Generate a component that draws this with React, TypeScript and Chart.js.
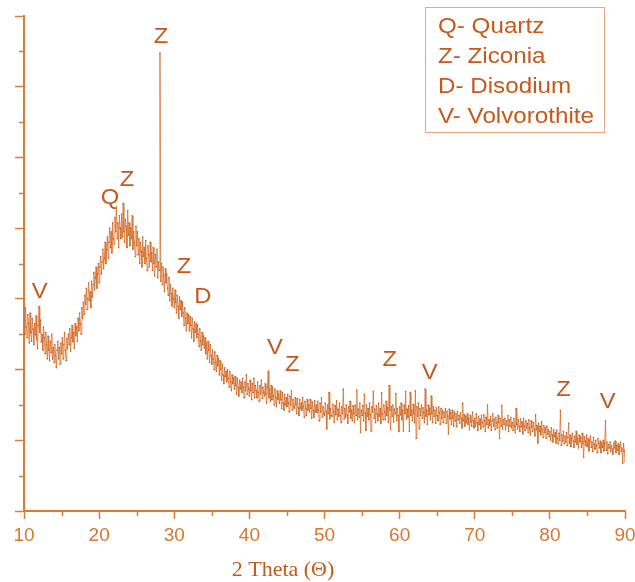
import React, { useEffect, useRef } from "react";
import { Chart, registerables } from "chart.js";
Chart.register(...registerables);

// XRD scan sampling grid (2θ step of the recorded pattern)
const scanStart = 10;
const scanStep = 0.1;

// Intensity (counts), one array per 10° of 2θ
const intensity10to20 = [
  540, 500, 575, 520, 490, 555, 530, 475, 560, 505,
  480, 545, 515, 470, 530, 498, 552, 485, 460, 525,
  578, 505, 540, 478, 500, 455, 520, 490, 445, 505,
  470, 430, 495, 455, 425, 480, 448, 500, 430, 462,
  420, 470, 440, 405, 455, 480, 430, 462, 415, 475,
  445, 490, 430, 470, 505, 455, 425, 488, 460, 500,
  470, 515, 452, 490, 525, 478, 505, 460, 530, 495,
  520, 480, 545, 510, 560, 530, 500, 575, 545, 590,
  555, 610, 585, 630, 570, 600, 645, 595, 620, 575,
  650, 605, 640, 675, 625, 660, 690, 630, 670, 700,
];
const intensity20to30 = [
  645, 690, 720, 670, 705, 740, 685, 715, 760, 700,
  740, 775, 715, 760, 800, 745, 790, 730, 815, 770,
  755, 830, 790, 860, 770, 815, 745, 835, 800, 770,
  840, 775, 870, 790, 760, 825, 805, 745, 850, 780,
  815, 750, 800, 770, 835, 740, 790, 760, 720, 805,
  750, 790, 725, 770, 700, 760, 735, 690, 775, 720,
  745, 700, 765, 715, 680, 750, 725, 690, 760, 705,
  730, 680, 745, 700, 665, 725, 690, 740, 660, 705,
  680, 1295, 650, 700, 640, 690, 665, 620, 685, 645,
  670, 630, 610, 660, 595, 640, 615, 580, 630, 600,
];
const intensity30to40 = [
  575, 625, 590, 560, 610, 580, 545, 605, 570, 595,
  550, 590, 560, 525, 575, 545, 510, 560, 530, 555,
  510, 550, 525, 490, 545, 515, 480, 535, 505, 530,
  490, 525, 500, 465, 515, 480, 455, 505, 470, 495,
  460, 490, 445, 475, 430, 480, 455, 420, 470, 440,
  415, 455, 430, 400, 450, 420, 395, 440, 410, 430,
  385, 425, 400, 370, 415, 385, 360, 405, 380, 395,
  365, 400, 375, 350, 395, 365, 340, 385, 360, 375,
  345, 380, 355, 330, 375, 350, 325, 370, 345, 365,
  335, 375, 350, 320, 365, 340, 385, 330, 360, 345,
];
const intensity40to50 = [
  325, 370, 340, 315, 360, 335, 375, 320, 355, 340,
  320, 365, 335, 310, 355, 330, 370, 318, 350, 335,
  325, 360, 330, 305, 350, 395, 320, 345, 310, 355,
  315, 350, 325, 300, 345, 320, 295, 340, 315, 330,
  305, 340, 315, 290, 335, 305, 285, 330, 300, 320,
  295, 330, 305, 280, 325, 300, 340, 285, 315, 295,
  290, 320, 300, 275, 318, 292, 270, 315, 290, 305,
  285, 320, 295, 265, 310, 290, 270, 315, 285, 300,
  280, 315, 290, 262, 308, 285, 265, 312, 280, 300,
  278, 310, 285, 255, 305, 280, 320, 265, 295, 275,
];
const intensity50to60 = [
  270, 305, 282, 232, 300, 275, 335, 260, 290, 270,
  268, 302, 280, 250, 298, 272, 312, 258, 288, 268,
  305, 270, 250, 295, 275, 345, 260, 290, 265, 300,
  272, 248, 295, 280, 310, 262, 285, 255, 298, 275,
  250, 300, 270, 342, 258, 288, 265, 305, 222, 285,
  270, 298, 255, 330, 278, 228, 300, 268, 290, 258,
  305, 272, 226, 295, 280, 338, 262, 288, 250, 298,
  275, 255, 305, 268, 290, 248, 335, 275, 258, 300,
  280, 258, 310, 270, 292, 250, 355, 285, 230, 295,
  268, 300, 252, 288, 275, 332, 255, 290, 270, 225,
];
const intensity60to70 = [
  295, 272, 305, 258, 285, 226, 300, 275, 338, 260,
  288, 265, 298, 225, 335, 270, 285, 255, 302, 275,
  250, 340, 205, 295, 268, 305, 232, 290, 270, 300,
  262, 292, 278, 250, 345, 268, 285, 245, 300, 272,
  290, 258, 325, 275, 250, 295, 268, 285, 248, 292,
  270, 255, 295, 278, 245, 290, 262, 285, 250, 280,
  265, 290, 248, 282, 268, 218, 288, 260, 278, 245,
  285, 262, 240, 280, 255, 275, 238, 282, 258, 270,
  248, 278, 262, 235, 305, 255, 272, 240, 268, 250,
  275, 245, 262, 230, 270, 252, 240, 280, 255, 235,
];
const intensity70to80 = [
  262, 240, 275, 250, 228, 268, 245, 260, 232, 270,
  250, 238, 272, 255, 225, 265, 245, 300, 235, 258,
  242, 268, 228, 255, 275, 240, 260, 230, 265, 248,
  235, 270, 250, 205, 262, 240, 298, 232, 258, 245,
  262, 230, 255, 242, 270, 225, 258, 240, 265, 235,
  250, 228, 262, 240, 222, 290, 245, 232, 258, 240,
  225, 260, 238, 252, 218, 262, 240, 228, 255, 235,
  248, 222, 258, 235, 215, 255, 238, 225, 250, 232,
  212, 272, 230, 242, 192, 248, 225, 240, 215, 252,
  230, 208, 242, 222, 235, 205, 240, 218, 230, 210,
];
const intensity80to90 = [
  225, 200, 235, 215, 195, 230, 210, 222, 192, 228,
  205, 190, 220, 200, 285, 185, 215, 198, 225, 190,
  212, 195, 222, 185, 208, 248, 192, 215, 182, 205,
  220, 198, 180, 212, 195, 225, 188, 205, 178, 215,
  195, 208, 180, 220, 190, 152, 210, 198, 185, 215,
  182, 205, 170, 198, 212, 180, 195, 168, 208, 188,
  175, 200, 185, 165, 205, 190, 178, 198, 165, 192,
  180, 200, 170, 190, 255, 172, 195, 162, 188, 178,
  195, 168, 185, 175, 160, 192, 178, 198, 165, 185,
  172, 190, 160, 182, 195, 168, 178, 135, 190, 170,
  140,
];

const xMin = 10;
const xMax = 90;
const yMin = 0;
const yMax = 1400;

// Phase markers
const peakLabels = ["Z", "Q", "Z", "Z", "D", "V", "V", "Z", "Z", "V", "Z", "V"];
const peakTheta = [28.24, 21.45, 23.7, 31.3, 33.8, 12.1, 43.4, 45.7, 58.7, 64.0, 81.8, 87.7];
const peakCounts = [1340, 885, 936, 690, 605, 620, 461, 413, 427, 390, 342, 308];

const legendEntries = ["Q- Quartz", "Z- Ziconia", "D- Disodium", "V- Volvorothite"];
const xAxisTitle = "2 Theta (\u0398)";

const AXIS_COLOR = "#DC7B35";
const TICK_TEXT = "#D8762F";
const LABEL_TEXT = "#C55A1C";
const SANS = '"Liberation Sans", Arial, sans-serif';

const allIntensity = [
  ...intensity10to20,
  ...intensity20to30,
  ...intensity30to40,
  ...intensity40to50,
  ...intensity50to60,
  ...intensity60to70,
  ...intensity70to80,
  ...intensity80to90,
];
const points = allIntensity.map((v, i) => ({
  x: Math.round((scanStart + i * scanStep) * 100) / 100,
  y: v,
}));

const overlayPlugin = {
  id: "overlay",
  afterDraw(chart: any) {
    const { ctx, scales } = chart;
    const xs = scales.x;
    const ys = scales.y;
    ctx.save();
    // minor ticks
    ctx.strokeStyle = AXIS_COLOR;
    ctx.lineWidth = 1.5;
    for (let v = yMin + 100; v < yMax; v += 200) {
      const py = Math.round(ys.getPixelForValue(v)) + 0.5;
      const px = xs.left;
      ctx.beginPath();
      ctx.moveTo(px - 5, py);
      ctx.lineTo(px, py);
      ctx.stroke();
    }
    for (let v = xMin + 5; v < xMax; v += 10) {
      const px = Math.round(xs.getPixelForValue(v)) + 0.5;
      const py = ys.bottom;
      ctx.beginPath();
      ctx.moveTo(px, py);
      ctx.lineTo(px, py + 5);
      ctx.stroke();
    }

    // peak letters
    ctx.fillStyle = LABEL_TEXT;
    ctx.font = `22px ${SANS}`;
    ctx.textAlign = "center";
    ctx.textBaseline = "middle";
    peakLabels.forEach((lab, i) => {
      const px = xs.getPixelForValue(peakTheta[i]);
      const py = ys.getPixelForValue(peakCounts[i]);
      ctx.save();
      ctx.translate(px, py);
      ctx.scale(1.08, 1);
      ctx.fillText(lab, 0, 0);
      ctx.restore();
    });

    // legend box
    ctx.strokeStyle = "#EFA57A";
    ctx.lineWidth = 1;
    ctx.strokeRect(425.5, 7.5, 179, 125);
    ctx.textAlign = "left";
    legendEntries.forEach((t, i) => {
      ctx.save();
      ctx.translate(438, 27 + i * 30);
      ctx.scale(1.1, 1);
      ctx.fillText(t, 0, 0);
      ctx.restore();
    });

    // x axis title
    ctx.fillStyle = LABEL_TEXT;
    ctx.font = '22px "Liberation Serif", "Times New Roman", serif';
    ctx.textAlign = "center";
    ctx.fillText(xAxisTitle, 283, 570);
    ctx.restore();
  },
};

export default function App() {
  const ref = useRef<HTMLCanvasElement>(null);
  useEffect(() => {
    if (!ref.current) return;
    const chart = new Chart(ref.current, {
      type: "line",
      data: {
        datasets: [
          {
            data: points,
            borderColor: "rgba(212,114,48,0.8)",
            borderWidth: 1,
            pointRadius: 0.8,
            pointBorderWidth: 0,
            pointBackgroundColor: "rgba(192,88,26,0.9)",
            tension: 0,
            fill: false,
          },
        ],
      },
      options: {
        animation: false,
        responsive: false,
        maintainAspectRatio: false,
        layout: { padding: { left: 15, right: 10, top: 16, bottom: 0 } },
        plugins: {
          legend: { display: false },
          tooltip: { enabled: false },
          title: { display: false },
        },
        scales: {
          x: {
            type: "linear",
            min: xMin,
            max: xMax,
            ticks: {
              stepSize: 10,
              color: TICK_TEXT,
              font: { family: SANS, size: 19 },
              padding: 5,
              maxRotation: 0,
            },
            grid: {
              display: true,
              drawOnChartArea: false,
              drawTicks: true,
              tickLength: 8,
              tickWidth: 1.5,
              tickColor: AXIS_COLOR,
            },
            border: { display: true, color: AXIS_COLOR, width: 2 },
            afterFit: (s: any) => {
              s.height = 71;
              s.paddingLeft = 0;
              s.paddingRight = 0;
            },
          },
          y: {
            type: "linear",
            min: yMin,
            max: yMax,
            ticks: { stepSize: 200, display: false },
            grid: {
              display: true,
              drawOnChartArea: false,
              drawTicks: true,
              tickLength: 9,
              tickWidth: 1.5,
              tickColor: AXIS_COLOR,
            },
            border: { display: true, color: AXIS_COLOR, width: 2 },
            afterFit: (s: any) => {
              s.width = 9;
              s.paddingTop = 0;
              s.paddingBottom = 0;
            },
          },
        },
      },
      plugins: [overlayPlugin],
    });
    return () => chart.destroy();
  }, []);
  return (
    <div style={{ position: "absolute", left: 0, top: 0, width: 635, height: 582, background: "#fff" }}>
      <canvas ref={ref} width={635} height={582} style={{ width: 635, height: 582 }} />
    </div>
  );
}
